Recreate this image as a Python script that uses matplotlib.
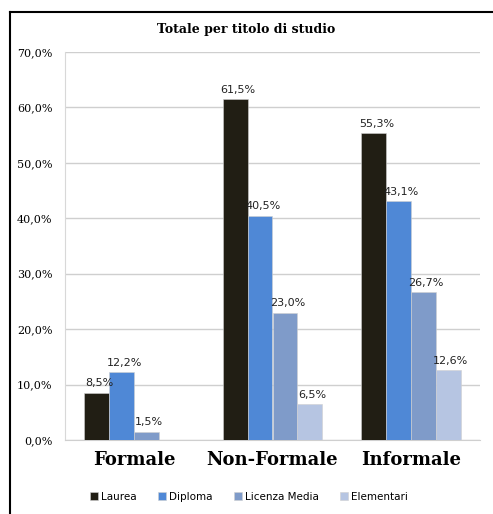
import matplotlib
matplotlib.use("Agg")
import matplotlib.pyplot as plt
import numpy as np
from matplotlib.lines import Line2D

categories = ["Formale", "Non-Formale", "Informale"]
series_names = ["Laurea", "Diploma", "Licenza Media", "Elementari"]
laurea = [8.5, 61.5, 55.3]
diploma = [12.2, 40.5, 43.1]
licenza = [1.5, 23.0, 26.7]
elementari = [0.0, 6.5, 12.6]
colors = ["#211e14", "#4f88d6", "#7f9bc9", "#b6c5e2"]
yticks = [0, 10, 20, 30, 40, 50, 60, 70]

fig = plt.figure(figsize=(4.93, 5.14), dpi=100)
ax = fig.add_axes([65/493, 1-440/514, (480-65)/493, (440-52)/514])

x = np.arange(len(categories))
w = 0.18
series = [laurea, diploma, licenza, elementari]
for i, (vals, name, c) in enumerate(zip(series, series_names, colors)):
    pos = x + (i - 1.5) * w
    ax.bar(pos, vals, w, color=c, label=name, edgecolor="#d0d0d0", linewidth=0.4, zorder=3)
    for xp, v in zip(pos, vals):
        if v > 0:
            ax.text(xp + 0.02, v + 0.8, f"{v:.1f}%".replace(".", ","), ha="center", va="bottom",
                    fontsize=8, family="DejaVu Sans", color="#222222", zorder=4)

ax.set_xlim(-0.5, 2.5)
ax.set_ylim(0, 70)
ax.set_yticks(yticks)
ax.set_yticklabels([f"{t:.1f}%".replace(".", ",") for t in yticks], family="serif", fontsize=8)
ax.set_xticks(x)
ax.set_xticklabels(categories, family="serif", fontsize=13, fontweight="bold")
ax.tick_params(axis="x", length=0, pad=8)
ax.tick_params(axis="y", length=0, pad=9)
ax.grid(axis="y", color="#cfcfcf", linewidth=1, zorder=0)
for s in ["top", "right"]:
    ax.spines[s].set_visible(False)
ax.spines["bottom"].set_color("#cfcfcf")
ax.spines["left"].set_color("#d8d8d8")

fig.text(0.5, 1-30/514, "Totale per titolo di studio", ha="center", va="center",
         family="serif", fontsize=9, fontweight="bold")

fig.legend(loc="center", bbox_to_anchor=(0.505, 1-497/514), ncol=4, frameon=False,
           fontsize=7.5, handlelength=0.8, handleheight=0.8, handletextpad=0.3, columnspacing=2.0)

# frame: top and left edges only
fig.lines.append(Line2D([10/493, 1.0], [1-11.5/514, 1-11.5/514], transform=fig.transFigure,
                        color="black", linewidth=1.5))
fig.lines.append(Line2D([10/493, 10/493], [0.0, 1-11.5/514], transform=fig.transFigure,
                        color="black", linewidth=1.5))

fig.savefig("out.png", dpi=100)
